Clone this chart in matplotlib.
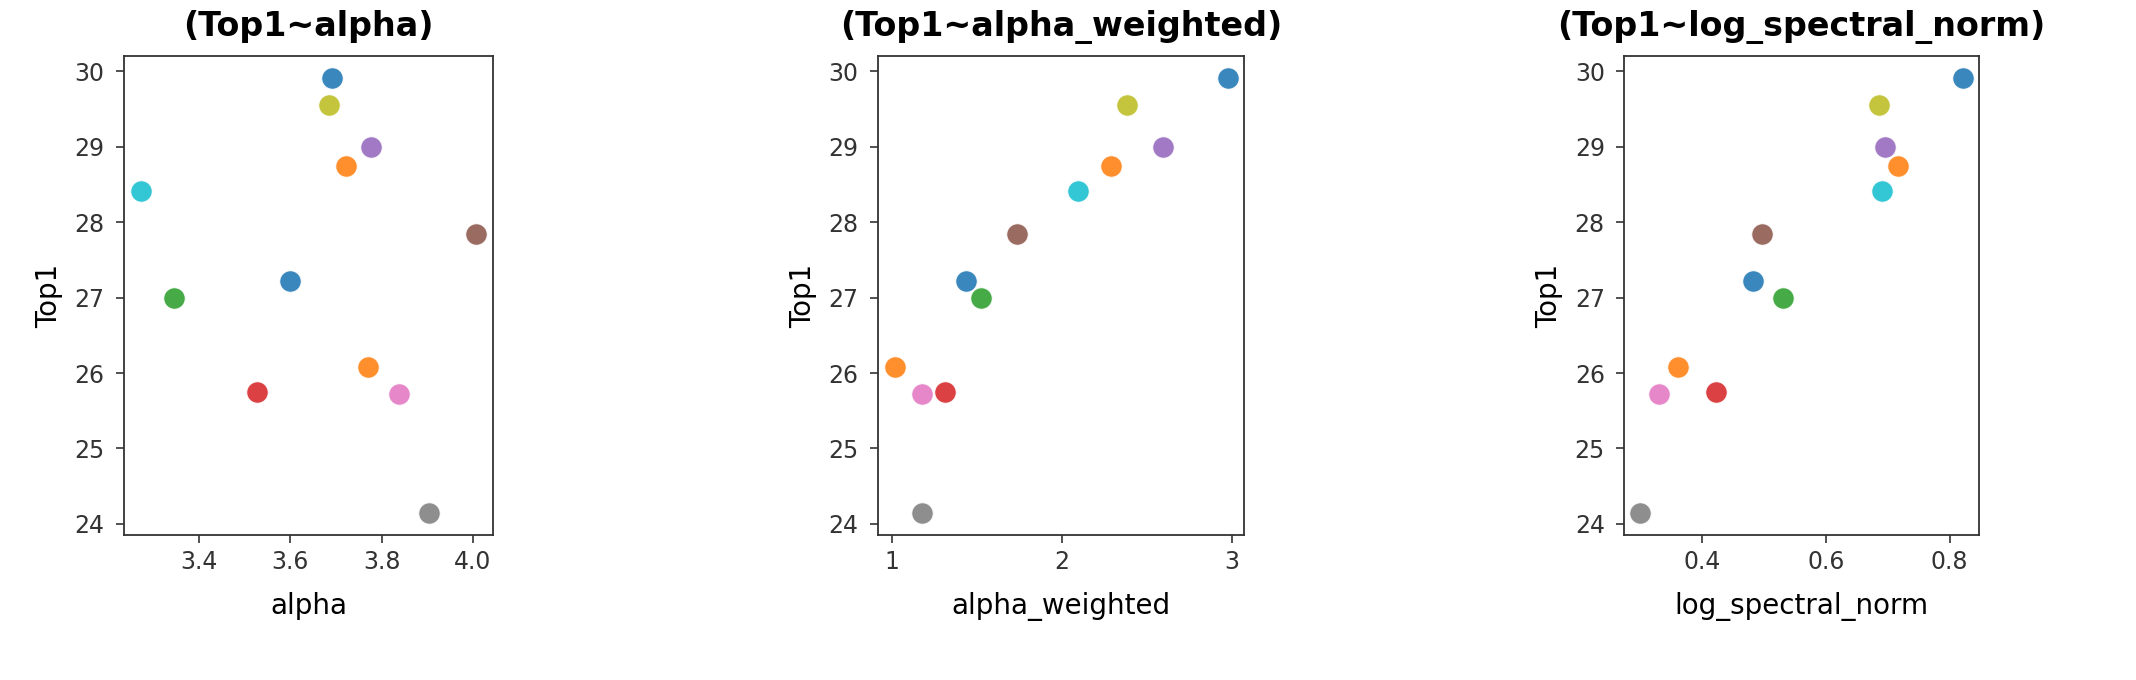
import matplotlib
matplotlib.use("Agg")
import matplotlib.pyplot as plt

# Top1 error per model and three weightwatcher metrics
top1 = [27.22, 26.08, 27.00, 25.75, 29.00, 27.84, 25.72, 24.14, 29.55, 28.42, 29.91, 28.75]
alpha = [3.600, 3.771, 3.344, 3.527, 3.777, 4.008, 3.838, 3.904, 3.685, 3.272, 3.691, 3.723]
alpha_weighted = [1.439, 1.016, 1.522, 1.310, 2.598, 1.735, 1.180, 1.180, 2.386, 2.094, 2.975, 2.288]
log_spectral_norm = [0.482, 0.3605, 0.530, 0.4216, 0.695, 0.4957, 0.3303, 0.2995, 0.6865, 0.6914, 0.8216, 0.7173]

metrics = ["alpha", "alpha_weighted", "log_spectral_norm"]
values = [alpha, alpha_weighted, log_spectral_norm]
xticks = [[3.4, 3.6, 3.8, 4.0], [1, 2, 3], [0.4, 0.6, 0.8]]

colors = [plt.cm.tab10(i % 10) for i in range(len(top1))]

fig = plt.figure(figsize=(21.36, 6.8), dpi=100)
rects = [
    [0.0581, 0.2131, 0.1728, 0.704],
    [0.4110, 0.2131, 0.1715, 0.704],
    [0.7604, 0.2131, 0.1661, 0.704],
]

for rect, name, xs, xt in zip(rects, metrics, values, xticks):
    ax = fig.add_axes(rect)
    for x, y, c in zip(xs, top1, colors):
        ax.scatter(x, y, s=240, color=c, alpha=0.88, edgecolor="white", linewidth=0.75)
    ax.set_xlabel(name, fontsize=20, labelpad=13)
    ax.set_ylabel("Top1", fontsize=20, labelpad=8)
    ax.tick_params(labelsize=17, length=6, width=1.2, colors="#333333")
    ax.tick_params(axis="x", pad=5)
    ax.tick_params(axis="y", pad=8)
    for sp in ax.spines.values():
        sp.set_linewidth(1.3)
        sp.set_color("#333333")
    ax.set_xticks(xt)
    ax.set_yticks([24, 25, 26, 27, 28, 29, 30])
    ax.set_title("(Top1~" + name + ")", fontsize=24, fontweight="bold", pad=15)

fig.savefig("out.png", dpi=100)
